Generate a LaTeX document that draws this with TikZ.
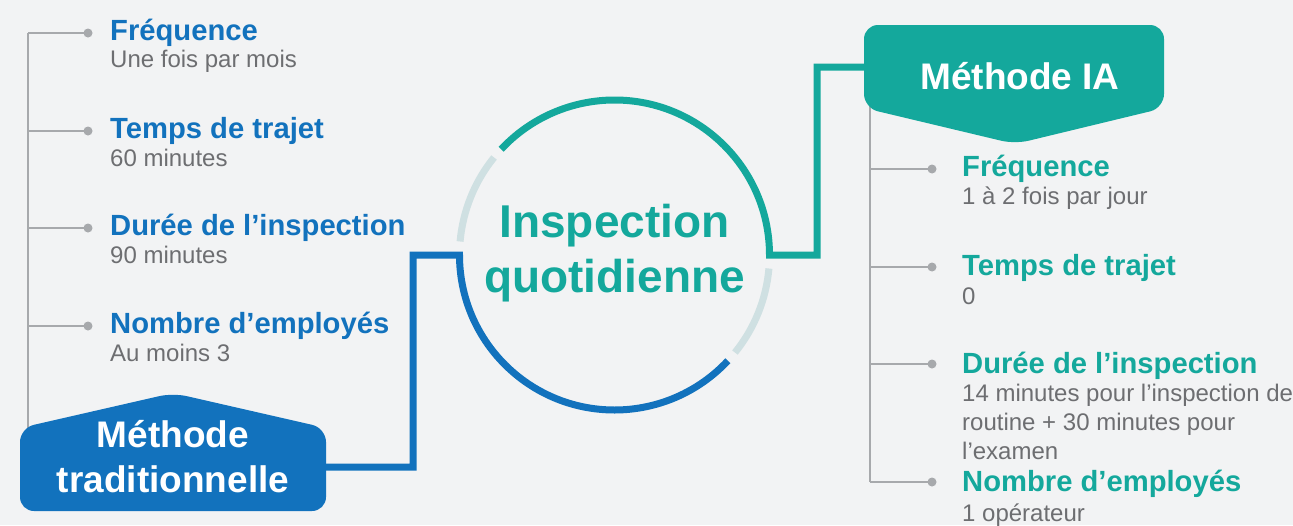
\documentclass[tikz,border=0pt]{standalone}
\usepackage{fontspec}
\setmainfont{Liberation Sans}
\definecolor{bgc}{RGB}{242,243,244}
\definecolor{mblue}{RGB}{18,114,189}
\definecolor{mteal}{RGB}{20,168,156}
\definecolor{lgray}{RGB}{167,169,172}
\definecolor{tgray}{RGB}{109,110,113}
\definecolor{larc}{RGB}{207,224,226}
\begin{document}
\begin{tikzpicture}[x=1pt,y=-1pt,
  head/.style={anchor=base west, inner sep=0pt, font=\bfseries\fontsize{29.2}{34}\selectfont},
  sub/.style={anchor=base west, inner sep=0pt, text=tgray, align=left, font=\fontsize{24}{29}\selectfont},
  spine/.style={draw=lgray, line width=2pt},
  dotn/.style={circle, fill=lgray, inner sep=0pt, minimum size=9pt},
  thick arc/.style={line width=7pt},
  badgetxt/.style={inner sep=0pt, text=white, align=center, font=\bfseries\fontsize{37}{45}\selectfont}]
\fill[bgc] (0,0) rectangle (1293,525);
\useasboundingbox (0,0) rectangle (1293,525);

% ---------- left tree ----------
\coordinate (L1) at (28,33);
\coordinate (L2) at (28,131);
\coordinate (L3) at (28,228);
\coordinate (L4) at (28,326);
\coordinate (Lend) at (28,440);
\draw[spine] (L1) -- (Lend);
\node[dotn] (Ld1) at (88,33) {};
\node[dotn] (Ld2) at (88,131) {};
\node[dotn] (Ld3) at (88,228) {};
\node[dotn] (Ld4) at (88,326) {};
\draw[spine] (L1) -- (Ld1.center);
\draw[spine] (L2) -- (Ld2.center);
\draw[spine] (L3) -- (Ld3.center);
\draw[spine] (L4) -- (Ld4.center);
\node[head, text=mblue] (Lh1) at (110,40) {Fréquence};
\node[sub] (Ls1) at (110,67) {Une fois par mois};
\node[head, text=mblue] (Lh2) at (110,138) {Temps de trajet};
\node[sub] (Ls2) at (110,166) {60 minutes};
\node[head, text=mblue] (Lh3) at (110,235) {Durée de l’inspection};
\node[sub] (Ls3) at (110,263) {90 minutes};
\node[head, text=mblue] (Lh4) at (110,333) {Nombre d’employés};
\node[sub] (Ls4) at (110,361) {Au moins 3};

% ---------- right tree ----------
\coordinate (R0) at (870,100);
\coordinate (R1) at (870,169);
\coordinate (R2) at (870,267);
\coordinate (R3) at (870,364);
\coordinate (R4) at (870,482);
\draw[spine] (R0) -- (R4);
\node[dotn] (Rd1) at (932,169) {};
\node[dotn] (Rd2) at (932,267) {};
\node[dotn] (Rd3) at (932,364) {};
\node[dotn] (Rd4) at (932,482) {};
\draw[spine] (R1) -- (Rd1.center);
\draw[spine] (R2) -- (Rd2.center);
\draw[spine] (R3) -- (Rd3.center);
\draw[spine] (R4) -- (Rd4.center);
\node[head, text=mteal] (Rh1) at (962,176) {Fréquence};
\node[sub] (Rs1) at (962,204) {1 à 2 fois par jour};
\node[head, text=mteal] (Rh2) at (962,275) {Temps de trajet};
\node[sub] (Rs2) at (962,304) {0};
\node[head, text=mteal] (Rh3) at (962,373) {Durée de l’inspection};
\node[sub] (Rs3) at (962,459) {14 minutes pour l’inspection de\\routine + 30 minutes pour\\l’examen};
\node[head, text=mteal] (Rh4) at (962,491) {Nombre d’employés};
\node[sub] (Rs4) at (962,521) {1 opérateur};

% ---------- badges ----------
\fill[mblue, rounded corners=14pt] (20,511) -- (20,428) -- (173,393) -- (326,428) -- (326,511) -- cycle;
\node[badgetxt, anchor=base] (trad) at (173,492) {Méthode\\traditionnelle};
\coordinate (tradR) at (326,467);

\fill[mteal, rounded corners=14pt] (864,25) -- (1164,25) -- (1164,108) -- (1015,144) -- (864,108) -- cycle;
\node[badgetxt, anchor=base] (ia) at (1020,89) {Méthode IA};
\coordinate (iaL) at (864,67);

% ---------- circle ----------
\coordinate (cc) at (614.5,255);
\coordinate (cL) at (459.5,255);
\coordinate (cR) at (769.5,255);
\draw[mblue, thick arc] (tradR) -| (413,255) -- (cL) arc[start angle=-180, end angle=-317, radius=155];
\draw[mteal, thick arc] (iaL) -| (817,255) -- (cR) arc[start angle=0, end angle=-137, radius=155];
\draw[larc, thick arc] ([shift={(-141:155)}]cc) arc[start angle=-141, end angle=-175, radius=155];
\draw[larc, thick arc] ([shift={(-321:155)}]cc) arc[start angle=-321, end angle=-355, radius=155];

\node[anchor=base, inner sep=0pt, text=mteal, align=center, font=\bfseries\fontsize{46}{55}\selectfont] (title) at (614.5,292) {Inspection\\quotidienne};
\end{tikzpicture}
\end{document}
